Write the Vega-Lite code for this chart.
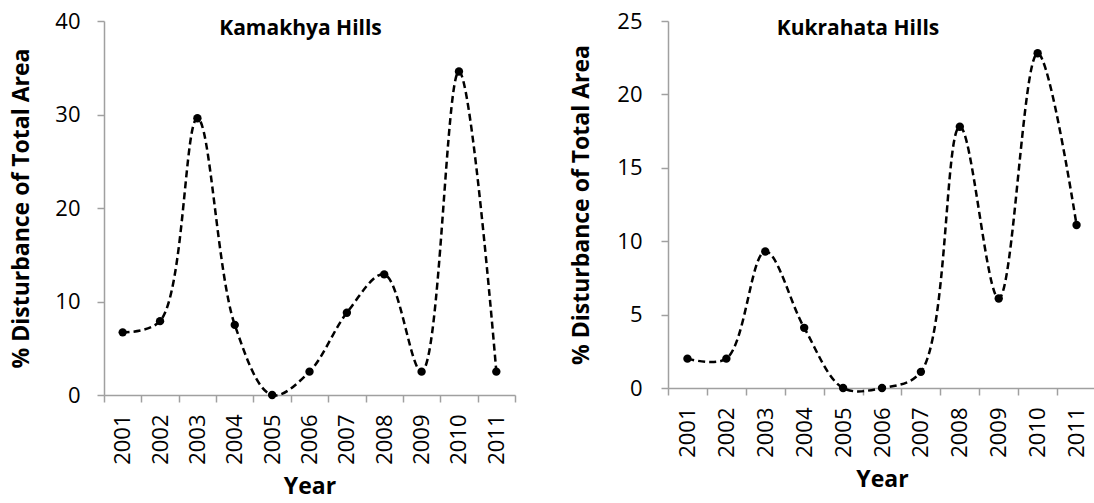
{
  "$schema": "https://vega.github.io/schema/vega-lite/v6.json",
  "background": "white",
  "padding": {"left": 10, "top": 10, "right": 0, "bottom": 0},
  "spacing": 54,
  "datasets": {
    "kamakhya": [
      {"year": "2001", "value": 6.7},
      {"year": "2002", "value": 7.9},
      {"year": "2003", "value": 29.6},
      {"year": "2004", "value": 7.5},
      {"year": "2005", "value": 0},
      {"year": "2006", "value": 2.5},
      {"year": "2007", "value": 8.8},
      {"year": "2008", "value": 12.9},
      {"year": "2009", "value": 2.5},
      {"year": "2010", "value": 34.6},
      {"year": "2011", "value": 2.5}
    ],
    "kukrahata": [
      {"year": "2001", "value": 2.0},
      {"year": "2002", "value": 2.0},
      {"year": "2003", "value": 9.3},
      {"year": "2004", "value": 4.1},
      {"year": "2005", "value": 0},
      {"year": "2006", "value": 0},
      {"year": "2007", "value": 1.1},
      {"year": "2008", "value": 17.8},
      {"year": "2009", "value": 6.1},
      {"year": "2010", "value": 22.8},
      {"year": "2011", "value": 11.1}
    ]
  },
  "hconcat": [
    {
      "width": 411,
      "height": 374,
      "title": {"text": "Kamakhya Hills", "offset": -29, "dx": -9, "frame": "group"},
      "data": {"name": "kamakhya"},
      "encoding": {
        "x": {
          "field": "year", "type": "ordinal",
          "scale": {"paddingInner": 0, "paddingOuter": 0},
          "axis": {"title": "Year", "labelAngle": -90, "labelPadding": 12, "titlePadding": 11, "tickBand": "extent"}
        },
        "y": {
          "field": "value", "type": "quantitative",
          "scale": {"domain": [0, 40]},
          "axis": {"title": "% Disturbance of Total Area", "values": [0, 10, 20, 30, 40], "labelPadding": 17, "titlePadding": 21}
        }
      },
      "layer": [
        {"mark": {"type": "line", "interpolate": "catmull-rom", "strokeDash": [7, 4], "strokeWidth": 2.5, "color": "black"}},
        {"mark": {"type": "circle", "size": 70, "color": "black", "opacity": 1}}
      ]
    },
    {
      "width": 428,
      "height": 367,
      "title": {"text": "Kukrahata Hills", "offset": -29, "dx": -24, "frame": "group"},
      "data": {"name": "kukrahata"},
      "encoding": {
        "x": {
          "field": "year", "type": "ordinal",
          "scale": {"paddingInner": 0, "paddingOuter": 0},
          "axis": {"title": "Year", "labelAngle": -90, "labelPadding": 12, "titlePadding": 11, "tickBand": "extent"}
        },
        "y": {
          "field": "value", "type": "quantitative",
          "scale": {"domain": [0, 25]},
          "axis": {"title": "% Disturbance of Total Area", "values": [0, 5, 10, 15, 20, 25], "labelPadding": 19, "titlePadding": 23}
        }
      },
      "layer": [
        {"mark": {"type": "line", "interpolate": "catmull-rom", "strokeDash": [7, 4], "strokeWidth": 2.5, "color": "black"}},
        {"mark": {"type": "circle", "size": 70, "color": "black", "opacity": 1}}
      ]
    }
  ],
  "config": {
    "view": {"stroke": null},
    "title": {"font": "Open Sans", "fontSize": 21, "fontWeight": "bold", "color": "black", "anchor": "middle"},
    "axis": {
      "grid": false,
      "domainColor": "#a0a0a0",
      "domainWidth": 1.5,
      "tickColor": "#a0a0a0",
      "tickWidth": 1.5,
      "tickSize": 7,
      "labelFont": "Open Sans",
      "labelFontSize": 22,
      "labelColor": "black",
      "titleFont": "Open Sans",
      "titleFontSize": 23,
      "titleFontWeight": "bold",
      "titleColor": "black"
    }
  }
}
